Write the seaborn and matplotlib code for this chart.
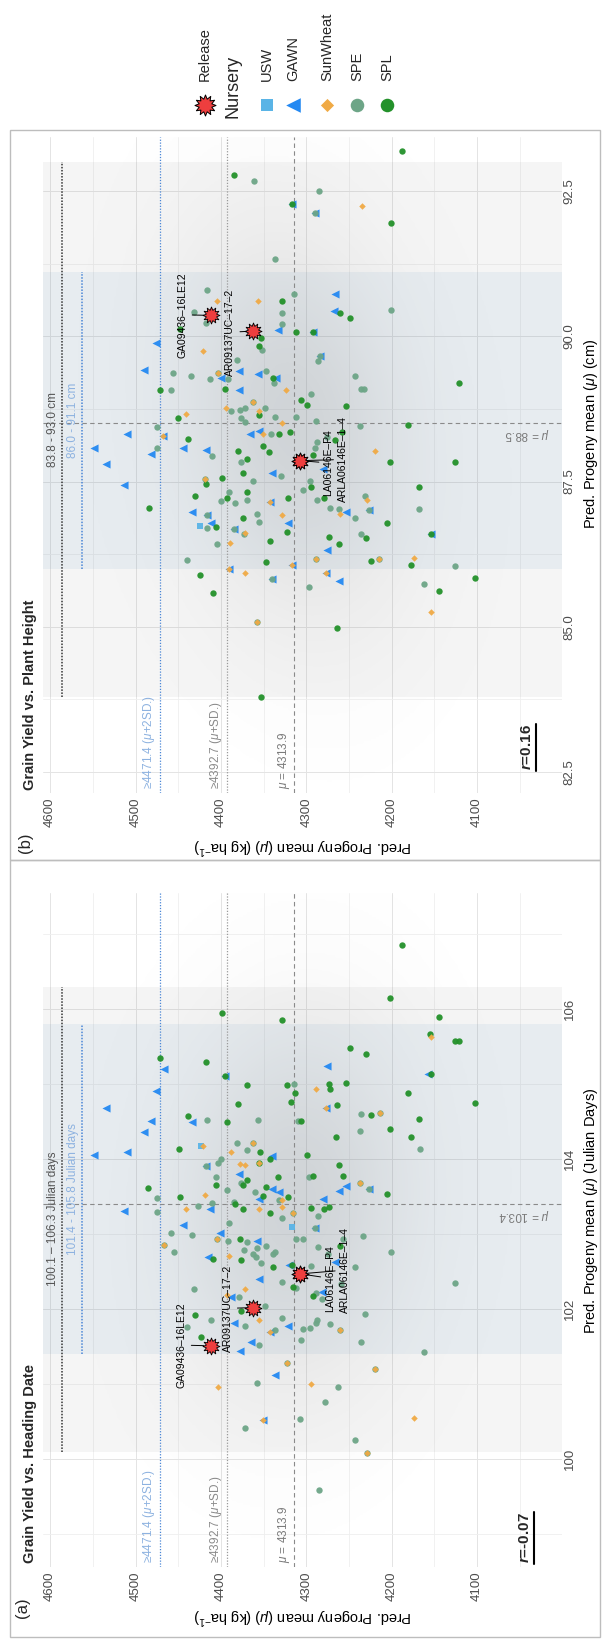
import numpy as np
import matplotlib
matplotlib.use("Agg")
import matplotlib.pyplot as plt
import seaborn as sns
from matplotlib.path import Path
from matplotlib.patches import Rectangle
from matplotlib.lines import Line2D
from matplotlib.colors import LinearSegmentedColormap

## Data
# panel (a): grain yield (kg/ha) vs heading date (Julian days)
a_spl_yield = [4399, 4328, 4471, 4417, 4395, 4370, 4323, 4313, 4318, 4380, 4393, 4439, 4449, 4354, 4356, 4342,
               4374, 4370, 4333, 4406, 4485, 4347, 4448, 4351, 4322, 4384, 4374, 4343,
               4188, 4202, 4145, 4155, 4126, 4121, 4249, 4230, 4154, 4273, 4272, 4253, 4181, 4102, 4264, 4224,
               4306, 4168, 4202, 4265, 4178, 4299, 4262, 4257, 4292, 4205, 4294, 4279, 4274,
               4378, 4261, 4409, 4376, 4339, 4317, 4316, 4292, 4376, 4430, 4423]
a_spl_days = [105.95, 105.85, 105.35, 105.29, 105.11, 104.99, 104.99, 104.88, 104.76, 104.73, 104.50, 104.58,
              104.14, 104.10, 103.95, 104.00, 103.66, 103.72, 103.76, 103.65, 103.62, 103.63, 103.49, 103.51,
              103.50, 103.40, 103.34, 103.28,
              106.85, 106.15, 105.89, 105.67, 105.57, 105.57, 105.48, 105.40, 105.14, 105.00, 104.94, 105.02,
              104.88, 104.75, 104.72, 104.59, 104.51, 104.54, 104.40, 104.29, 104.30, 104.05, 103.92, 103.78,
              103.77, 103.53, 103.35, 103.34, 103.36,
              102.94, 102.84, 102.67, 102.65, 102.56, 102.59, 102.29, 102.17, 101.98, 101.92, 101.63]
a_spe_yield = [4315, 4416, 4357, 4310, 4381, 4362, 4369, 4400, 4403, 4418, 4406, 4376, 4393, 4360, 4475, 4332,
               4410, 4427, 4385, 4316, 4475, 4328, 4391,
               4236, 4214, 4237, 4167, 4297, 4237, 4227, 4286, 4290,
               4459, 4434, 4405, 4392, 4369, 4347, 4358, 4312, 4304, 4286, 4275, 4257, 4234, 4201, 4467, 4455,
               4373, 4362, 4359, 4339, 4337, 4353, 4294, 4243, 4126, 4431, 4329, 4312, 4289, 4282, 4259, 4379,
               4348, 4412, 4440, 4372, 4328, 4304, 4296, 4289, 4287, 4272, 4261, 4231, 4337, 4306, 4355, 4236,
               4162, 4323, 4220, 4358, 4263, 4278, 4308, 4372, 4243, 4229, 4285]
a_spe_days = [105.00, 104.52, 104.52, 104.51, 104.22, 104.21, 104.12, 104.00, 103.95, 103.91, 103.76, 103.68,
              103.59, 103.56, 103.48, 103.45, 103.42, 103.38, 103.43, 103.28, 103.30, 103.21, 103.15,
              104.60, 104.61, 104.38, 104.13, 103.76, 103.68, 103.60, 103.24, 103.08,
              103.02, 102.99, 102.93, 102.91, 102.90, 102.84, 102.82, 102.93, 102.93, 102.83, 102.74, 102.93,
              102.98, 102.76, 102.86, 102.76, 102.79, 102.74, 102.70, 102.73, 102.76, 102.61, 102.57, 102.56,
              102.35, 102.27, 102.36, 102.28, 102.22, 102.14, 102.33, 102.16, 102.04, 101.86, 101.76, 101.77,
              101.88, 101.74, 101.75, 101.82, 101.86, 101.80, 101.72, 101.94, 101.72, 101.59, 101.52, 101.56,
              101.43, 101.28, 101.20, 101.01, 100.96, 100.76, 100.53, 100.41, 100.26, 100.08, 99.59]
a_gawn_yield = [4467, 4395, 4476, 4535, 4434, 4482, 4490, 4510, 4549, 4418, 4340, 4379, 4340, 4332, 4356, 4513,
                4413, 4445, 4276, 4157, 4277, 4262, 4253, 4227, 4280, 4290,
                4401, 4358, 4415, 4320, 4266, 4356, 4388, 4385, 4321, 4343, 4365, 4378, 4337, 4351, 4282]
a_gawn_days = [105.20, 105.11, 104.91, 104.68, 104.50, 104.51, 104.36, 104.09, 104.05, 103.91, 104.04, 103.80,
               103.60, 103.56, 103.47, 103.31, 103.33, 103.12, 105.24, 105.14, 104.68, 103.58, 103.64, 103.60,
               103.47, 103.08,
               103.02, 102.91, 102.70, 102.59, 102.63, 102.40, 102.16, 101.81, 101.77, 101.70, 101.56, 101.44,
               101.12, 100.52, 102.23]
a_usw_yield = [4423, 4317]
a_usw_days = [104.17, 103.09]
a_sun_yield = [4421, 4362, 4388, 4378, 4372, 4356, 4419, 4328, 4441, 4355, 4328, 4316, 4214, 4289, 4277, 4237,
               4154, 4405, 4467, 4390, 4372, 4393, 4356, 4261, 4343, 4323, 4220, 4403, 4295, 4174, 4351, 4229]
a_sun_days = [104.17, 104.21, 104.09, 103.93, 103.92, 103.95, 103.52, 103.45, 103.33, 103.34, 103.36, 103.28,
              104.61, 104.94, 104.68, 103.68, 105.63, 102.93, 102.86, 102.71, 102.27, 102.19, 101.86, 101.72,
              101.70, 101.28, 101.20, 100.96, 101.00, 100.55, 100.52, 100.08]

# panel (b): grain yield (kg/ha) vs plant height (cm)
b_spl_yield = [4385, 4317, 4188, 4201, 4448, 4328, 4353, 4355, 4312, 4339, 4471, 4395, 4450, 4356, 4439, 4351,
               4332, 4319, 4344, 4380, 4370, 4374, 4399, 4418, 4370, 4393, 4430, 4321, 4484, 4406, 4374, 4342,
               4323, 4347, 4424, 4409, 4353,
               4261, 4249, 4292, 4121, 4306, 4299, 4254, 4181, 4266, 4258, 4292, 4202, 4126, 4294, 4168, 4279,
               4205, 4230, 4274, 4262, 4154, 4224, 4178, 4102, 4145, 4264]
b_spl_height = [92.78, 92.27, 93.19, 91.95, 90.12, 90.60, 89.97, 89.83, 90.07, 89.29, 89.07, 89.10, 88.60, 88.65,
                88.24, 88.12, 88.31, 88.35, 88.01, 88.02, 87.88, 87.65, 87.56, 87.46, 87.32, 87.22, 87.26, 87.22,
                87.05, 86.72, 86.87, 86.48, 86.63, 86.11, 85.90, 85.59, 83.79,
                90.40, 90.31, 90.08, 89.20, 88.91, 88.81, 88.80, 88.47, 88.21, 88.35, 87.96, 87.83, 87.83, 87.41,
                87.41, 87.22, 86.78, 86.53, 86.55, 86.43, 86.59, 86.14, 86.06, 85.84, 85.61, 84.98]
b_spe_yield = [4361, 4337, 4416, 4315, 4285, 4290, 4432, 4417, 4328, 4328, 4352, 4381, 4456, 4435, 4413, 4403,
               4392, 4347, 4338, 4459, 4388, 4362, 4378, 4372, 4377, 4372, 4348, 4337, 4312, 4475, 4475, 4410,
               4341, 4376, 4330, 4419, 4362, 4391, 4400, 4384, 4369, 4416, 4358, 4416, 4355, 4385, 4373, 4405,
               4440, 4340, 4358,
               4201, 4284, 4286, 4243, 4236, 4233, 4294, 4289, 4237, 4276, 4287, 4290, 4296, 4304, 4231, 4288,
               4272, 4262, 4227, 4243, 4168, 4236, 4289, 4215, 4126, 4297, 4162]
b_spe_height = [92.68, 91.33, 90.80, 90.73, 92.50, 92.12, 90.41, 90.23, 90.40, 90.22, 89.76, 89.60, 89.36, 89.32,
                89.26, 89.37, 89.26, 89.41, 89.20, 89.07, 88.71, 88.87, 88.74, 88.76, 88.60, 88.52, 88.77, 88.61,
                88.61, 88.44, 88.08, 87.94, 88.31, 87.84, 87.59, 87.55, 87.51, 87.32, 87.17, 87.13, 87.19, 86.92,
                86.94, 86.70, 86.80, 86.68, 86.60, 86.43, 86.15, 85.83, 85.09,
                90.46, 89.66, 89.58, 89.32, 89.10, 89.09, 89.01, 88.54, 88.45, 88.27, 88.18, 88.08, 87.51, 87.35,
                87.25, 87.19, 87.04, 87.03, 87.01, 86.87, 87.03, 86.60, 86.16, 86.17, 86.04, 85.68, 85.73]
b_gawn_yield = [4317, 4290, 4266, 4333, 4476, 4490, 4400, 4379, 4357, 4336, 4379, 4510, 4468, 4482, 4445, 4417,
                4549, 4366, 4356, 4535, 4340, 4513, 4343, 4434, 4416, 4412, 4321, 4385, 4390, 4340, 4317,
                4268, 4292, 4284, 4281, 4253, 4227, 4154, 4276, 4277, 4262]
b_gawn_height = [92.27, 92.12, 90.72, 90.10, 89.89, 89.42, 89.29, 89.41, 89.35, 89.28, 89.08, 88.31, 88.28, 87.98,
                 88.08, 88.05, 88.07, 88.31, 88.37, 87.81, 87.65, 87.44, 87.15, 86.98, 86.92, 86.79, 86.79, 86.68,
                 85.99, 85.83, 86.07,
                 90.44, 90.08, 89.66, 87.71, 86.97, 87.01, 86.59, 86.32, 85.92, 85.78]
b_usw_yield = [4424]
b_usw_height = [86.74]
b_sun_yield = [4235, 4405, 4357, 4421, 4403, 4324, 4441, 4394, 4362, 4355, 4328, 4468, 4351, 4419, 4343, 4329,
               4372, 4389, 4390, 4372, 4317, 4358, 4220, 4229, 4261, 4289, 4215, 4174, 4277, 4154]
b_sun_height = [92.25, 90.60, 90.60, 89.75, 89.37, 89.07, 88.67, 88.77, 88.87, 88.72, 88.51, 88.28, 88.31, 87.55,
                87.15, 86.92, 86.61, 86.45, 85.99, 85.93, 86.07, 85.09, 88.02, 87.19, 86.95, 86.16, 86.17, 86.19,
                85.92, 85.25]

# released cultivars
release_names = ["GA09436\u201316LE12", "AR09137UC\u201317\u20132", "LA06146E\u2013P4", "ARLA06146E\u20131\u20134"]
release_yield = [4412, 4362, 4307, 4307]
release_days = [101.51, 102.02, 102.47, 102.47]
release_height = [90.36, 90.09, 87.86, 87.86]

# summary statistics printed on the chart
yield_mu, yield_sd1, yield_sd2 = 4313.9, 4392.7, 4471.4
days_mu, height_mu = 103.4, 88.5
days_range_all, days_range_sel = (100.1, 106.3), (101.4, 105.8)
height_range_all, height_range_sel = (83.8, 93.0), (86.0, 91.1)
r_days, r_height = -0.07, 0.16

nursery_order = ["USW", "GAWN", "SPE", "SPL", "SunWheat"]

## Style
sns.set_theme(style="white")
plt.rcParams["font.family"] = ["Liberation Sans", "DejaVu Sans"]
plt.rcParams["mathtext.fontset"] = "custom"
plt.rcParams["mathtext.rm"] = "Liberation Sans"
plt.rcParams["mathtext.it"] = "Liberation Sans:italic"
plt.rcParams["mathtext.bf"] = "Liberation Sans:bold"
plt.rcParams["mathtext.bfit"] = "Liberation Sans:italic:bold"

styles = {
    "USW": dict(marker="s", color="#5AB4E6", s=20),
    "GAWN": dict(marker="<", color="#2489F2", s=34),
    "SPE": dict(marker="o", color="#6DA587", s=21),
    "SPL": dict(marker="o", color="#23912A", s=21),
    "SunWheat": dict(marker="D", color="#F0AA45", s=11),
}
star = Path.unit_regular_star(12, 0.62)
release_color = "#EE3E3E"
cloud_cmap = LinearSegmentedColormap.from_list("cloud", [(0.5, 0.5, 0.5, 0.0), (0.5, 0.5, 0.5, 0.22)])

W, H = 602, 1639
fig = plt.figure(figsize=(W / 100, H / 100), dpi=100)


def fx(px):
    return px / W


def fy(py):
    return 1 - py / H


YLIM = (4608, 4001)


def draw_panel(ax, pts, trait_lim, trait_ticks, trait_minor, tick_labels, band_all, band_sel,
               trait_mu, trait_sd, rho, rel_trait, rel_text_pos, band_texts, mu_text, ylab, ylab_y, xlab_y):
    ax.set_facecolor("white")
    for s in ax.spines.values():
        s.set_visible(False)

    ax.set_xticks([4100, 4200, 4300, 4400, 4500, 4600])
    ax.set_xticks([4050, 4150, 4250, 4350, 4450, 4550], minor=True)
    ax.set_yticks(trait_ticks)
    ax.set_yticks(trait_minor, minor=True)
    ax.grid(which="major", color="#E4E4E4", lw=0.7)
    ax.grid(which="minor", color="#EFEFEF", lw=0.6)
    ax.set_axisbelow(True)

    # shaded trait ranges
    ax.axhspan(*band_all, color="#808080", alpha=0.075, lw=0, zorder=0.8)
    ax.axhspan(*band_sel, color="#4682B4", alpha=0.075, lw=0, zorder=0.9)

    # progeny cloud drawn as a density backdrop from the printed mean/SD
    gx = np.linspace(YLIM[1], YLIM[0], 300)
    gy = np.linspace(trait_lim[0], trait_lim[1], 300)
    X, Y = np.meshgrid(gx, gy)
    zx = (X - yield_mu) / (1.15 * (yield_sd1 - yield_mu))
    zy = (Y - trait_mu) / trait_sd
    Z = np.exp(-(zx ** 2 - 2 * rho * zx * zy + zy ** 2) / (2 * (1 - rho ** 2)))
    ax.imshow(Z, extent=(YLIM[1], YLIM[0], trait_lim[0], trait_lim[1]), origin="lower",
              cmap=cloud_cmap, aspect="auto", zorder=1, interpolation="bilinear")

    # reference lines for yield
    ax.axvline(yield_mu, color="#8A8A8A", lw=0.8, ls=(0, (4, 3)), zorder=2)
    ax.axvline(yield_sd1, color="#9A9A9A", lw=0.9, ls=(0, (1, 1.3)), zorder=2)
    ax.axvline(yield_sd2, color="#4A86D6", lw=0.9, ls=(0, (1, 1.3)), zorder=2)
    ax.axhline(trait_mu, color="#8A8A8A", lw=0.8, ls=(0, (4, 3)), zorder=2)
    ax.plot([4586, 4586], band_all, color="#333333", lw=1.1, ls=(0, (1, 1)), zorder=2)
    ax.plot([4563, 4563], band_sel, color="#4A86D6", lw=1.1, ls=(0, (1, 1)), zorder=2)

    ax.annotate(band_texts[0], xy=(4586, np.mean(band_all)), xytext=(-2, 0), textcoords="offset points",
                rotation=90, rotation_mode="anchor", ha="center", va="bottom", fontsize=8.5, color="#555555")
    ax.annotate(band_texts[1], xy=(4563, np.mean(band_sel)), xytext=(-2, 0), textcoords="offset points",
                rotation=90, rotation_mode="anchor", ha="center", va="bottom", fontsize=8.5, color="#8DB2E0")
    for val, txt, col in [(yield_sd2, "\u2265%.1f ($\\mu$+2SD.)" % yield_sd2, "#8DB2E0"),
                          (yield_sd1, "\u2265%.1f ($\\mu$+SD.)" % yield_sd1, "#8A8A8A"),
                          (yield_mu, "$\\mu$ = %.1f" % yield_mu, "#7A7A7A")]:
        ax.annotate(txt, xy=(val, trait_lim[0]), xytext=(-2, 3), textcoords="offset points",
                    rotation=90, rotation_mode="anchor", ha="left", va="bottom", fontsize=8.5, color=col)
    ax.annotate(mu_text, xy=(4016, trait_mu), xytext=(0, -2), textcoords="offset points",
                rotation=180, rotation_mode="anchor", ha="left", va="bottom", fontsize=8.5, color="#7A7A7A")

    # nursery points
    for i, name in enumerate(nursery_order):
        xs, ys = pts[name]
        st = styles[name]
        sns.scatterplot(x=xs, y=ys, ax=ax, marker=st["marker"], color=st["color"], s=st["s"],
                        linewidth=0, alpha=0.95, zorder=3 + i * 0.1, legend=False)

    # released lines
    ax.scatter(release_yield, rel_trait, marker=star, s=150, facecolor=release_color,
               edgecolor="black", linewidth=0.6, zorder=4)
    for name, yv, tv, (lx, ly) in zip(release_names, release_yield, rel_trait, rel_text_pos):
        ax.annotate(name, xy=(yv, tv), xytext=(lx, ly), textcoords="data", rotation=90,
                    ha="center", va="center", fontsize=7.5, color="black", zorder=5,
                    arrowprops=dict(arrowstyle="-", color="black", lw=0.7, shrinkA=1, shrinkB=5))

    ax.set_xlim(*YLIM)
    ax.set_ylim(*trait_lim)

    ax.set_xticklabels(["4100", "4200", "4300", "4400", "4500", "4600"], rotation=90)
    ax.yaxis.tick_right()
    ax.set_yticklabels(tick_labels, rotation=90, va="center")
    ax.tick_params(axis="both", which="both", length=0, labelsize=9.5, labelcolor="#4D4D4D")
    ax.tick_params(axis="x", pad=3)
    ax.tick_params(axis="y", pad=1.5)

    ax.set_xlabel("Pred. Progeny mean ($\\mu$) (kg ha$^{-1}$)", rotation=180, fontsize=10.5, color="black")
    ax.xaxis.set_label_coords(0.5, xlab_y)
    ax.yaxis.set_label_position("right")
    ax.set_ylabel(ylab, fontsize=10.5, color="black")
    ax.yaxis.set_label_coords(1.039, ylab_y)


ax_b = fig.add_axes([fx(43.3), fy(793), (561.7 - 43.3) / W, (793 - 137) / H])
ax_a = fig.add_axes([fx(43.3), fy(1567), (561.7 - 43.3) / W, (1567 - 893) / H])

pts_a = {"USW": (a_usw_yield, a_usw_days), "GAWN": (a_gawn_yield, a_gawn_days),
         "SPE": (a_spe_yield, a_spe_days), "SPL": (a_spl_yield, a_spl_days),
         "SunWheat": (a_sun_yield, a_sun_days)}
pts_b = {"USW": (b_usw_yield, b_usw_height), "GAWN": (b_gawn_yield, b_gawn_height),
         "SPE": (b_spe_yield, b_spe_height), "SPL": (b_spl_yield, b_spl_height),
         "SunWheat": (b_sun_yield, b_sun_height)}

draw_panel(ax_a, pts_a, (98.56, 107.55), [100, 102, 104, 106], [99, 101, 103, 105, 107],
           ["100", "102", "104", "106"], days_range_all, days_range_sel, days_mu, 1.6, r_days,
           release_days, [(4446, 101.52), (4392, 102.01), (4272, 102.41), (4255, 102.52)],
           ["%.1f \u2013 %.1f Julian days" % days_range_all, "%.1f - %.1f Julian days" % days_range_sel],
           "$\\mu$ = %.1f" % days_mu, "Pred. Progeny mean ($\\mu$) (Julian Days)", 0.528, -0.0564)

draw_panel(ax_b, pts_b, (82.14, 93.43), [82.5, 85, 87.5, 90, 92.5], [83.75, 86.25, 88.75, 91.25],
           ["82.5", "85.0", "87.5", "90.0", "92.5"], height_range_all, height_range_sel, height_mu, 2.2,
           r_height, release_height, [(4445, 90.37), (4389, 90.07), (4274, 87.82), (4257, 87.88)],
           ["%.1f - %.1f cm" % height_range_all, "%.1f - %.1f cm" % height_range_sel],
           "$\\mu$ = %.1f" % height_mu, "Pred. Progeny mean ($\\mu$) (cm)", 0.547, -0.064)

## Panel frames, titles, tags, correlation labels
for top, bot in [(130, 860), (860, 1637)]:
    fig.add_artist(Rectangle((fx(10), fy(bot)), fx(600) - fx(10), fy(top) - fy(bot),
                             transform=fig.transFigure, fill=False, edgecolor="#BDBDBD", lw=1.0))

fig.text(fx(30), fy(790), "Grain Yield vs. Plant Height", rotation=90, rotation_mode="anchor",
         ha="left", va="center", fontsize=10.5, weight="bold")
fig.text(fx(30), fy(1563), "Grain Yield vs. Heading Date", rotation=90, rotation_mode="anchor",
         ha="left", va="center", fontsize=10.5, weight="bold")
fig.text(fx(25), fy(843), "(b)", rotation=90, ha="center", va="center", fontsize=12)
fig.text(fx(22), fy(1608), "(a)", rotation=90, ha="center", va="center", fontsize=12)

for r, x0, y0, y1 in [(r_days, 525, 1563, 1512), (r_height, 527, 770, 724)]:
    fig.text(fx(x0), fy(y0), "$\\mathbfit{r}$=%.2f" % r, rotation=90, rotation_mode="anchor",
             ha="left", va="center", fontsize=11, weight="bold")
    fig.add_artist(Line2D([fx(x0 + 9), fx(x0 + 9)], [fy(y0 + 1), fy(y1)], transform=fig.transFigure,
                          color="black", lw=1.5))

## Legend (drawn by hand since the whole figure is turned on its side)
lax = fig.add_axes([0, fy(130), 1, 130 / H])
lax.set_xlim(0, W)
lax.set_ylim(130, 0)
lax.axis("off")
lax.scatter([205], [105], marker=star, s=230, facecolor=release_color, edgecolor="black", linewidth=0.7)
lax.text(205, 81, "Release", rotation=90, rotation_mode="anchor", ha="left", va="center", fontsize=10.5)
lax.text(233, 118, "Nursery", rotation=90, rotation_mode="anchor", ha="left", va="center", fontsize=13)
leg_sizes = {"USW": 75, "GAWN": 110, "SunWheat": 45, "SPE": 95, "SPL": 95}
for name, xpos in zip(["USW", "GAWN", "SunWheat", "SPE", "SPL"], [267, 293, 327, 357, 387]):
    st = styles[name]
    lax.scatter([xpos], [105], marker=st["marker"], color=st["color"], s=leg_sizes[name], linewidth=0)
    lax.text(xpos, 81, name, rotation=90, rotation_mode="anchor", ha="left", va="center", fontsize=10.5)

fig.savefig("out.png", dpi=100)
